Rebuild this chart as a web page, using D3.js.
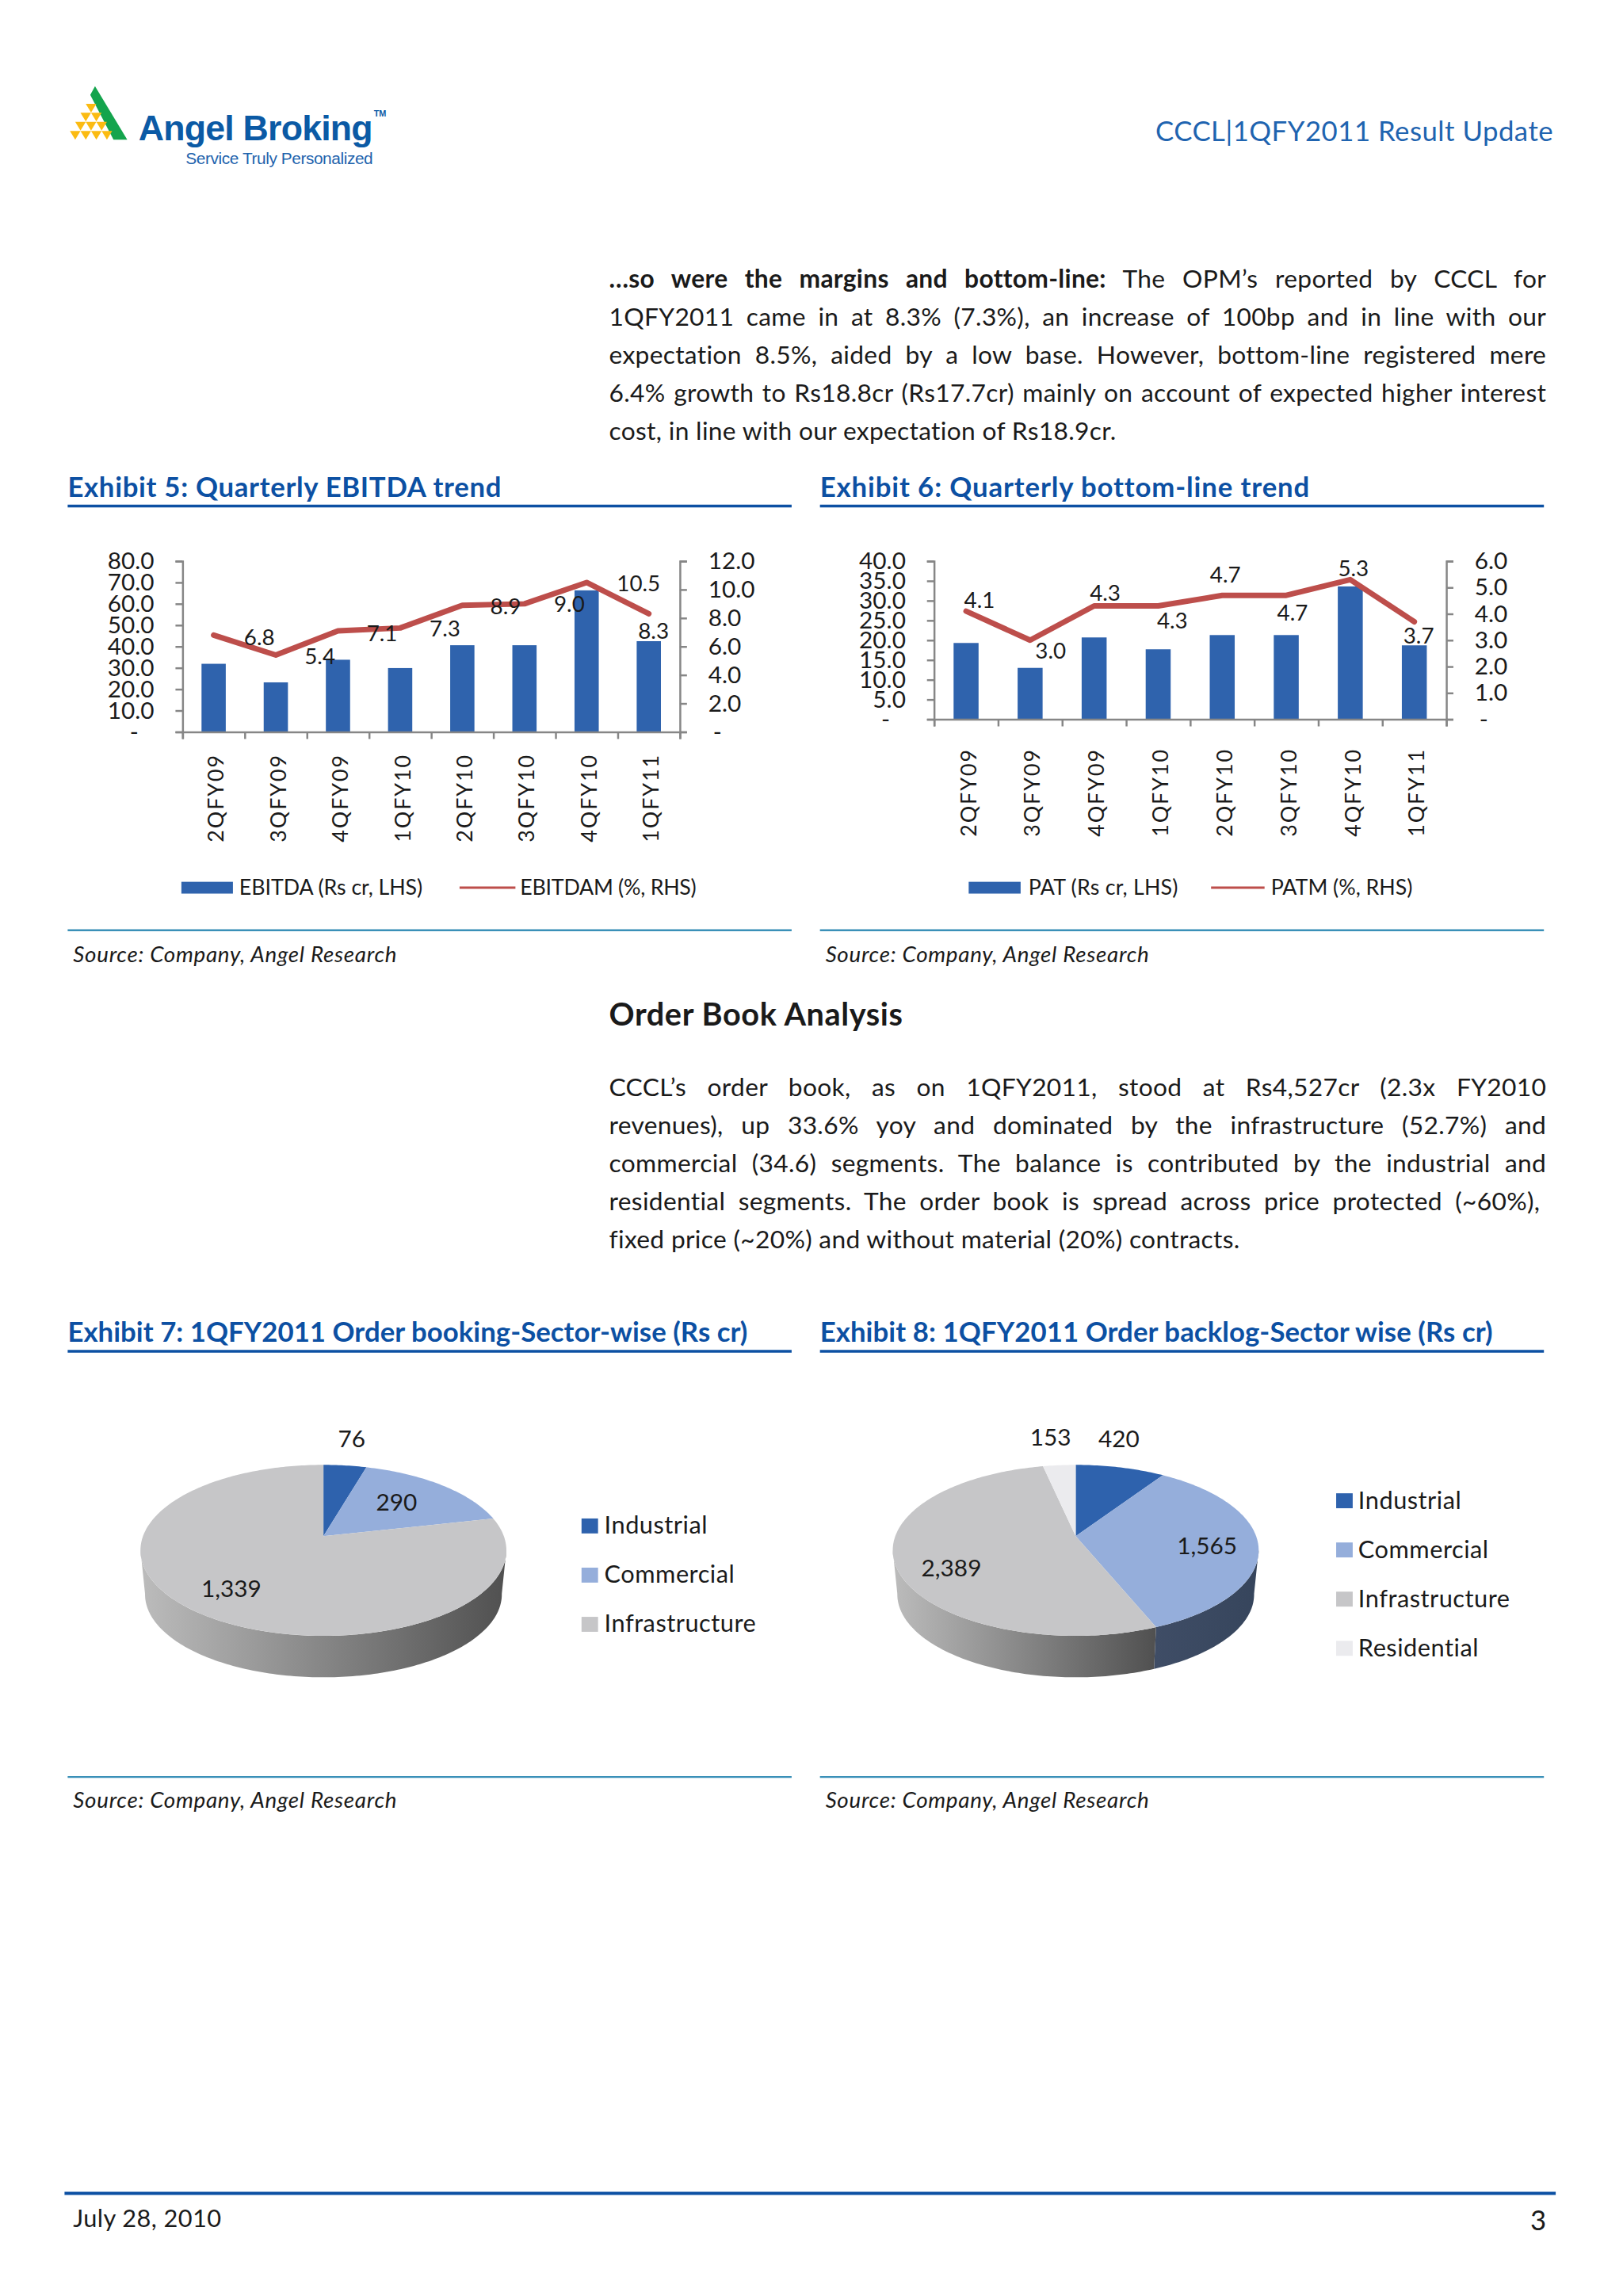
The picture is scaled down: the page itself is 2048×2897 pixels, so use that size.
<!DOCTYPE html>
<html><head><meta charset="utf-8">
<script src="https://cdn.jsdelivr.net/npm/d3@7/dist/d3.min.js"></script>
<style>
html,body{margin:0;padding:0;background:#fff}
svg{display:block}
text{font-family:Lato,"Open Sans",sans-serif;fill:#1a1a1a;font-variant-ligatures:none}
.axis path,.axis line{stroke:#868686;stroke-width:2.5;fill:none}
.axis text{font-size:30px;fill:#1a1a1a;font-family:Lato,sans-serif}
</style></head><body>
<svg id="page" width="2048" height="2897" viewBox="0 0 2062.5 2917.5"></svg>
<script>
// ---------- data ----------
const quarters = ["2QFY09","3QFY09","4QFY09","1QFY10","2QFY10","3QFY10","4QFY10","1QFY11"];
const ebitda  = [31.9,23.2,33.8,29.9,40.6,40.6,66.3,42.5];
const ebitdam = [6.8,5.4,7.1,7.3,8.9,9.0,10.5,8.3];
const pat     = [19.3,13.0,20.7,17.7,21.3,21.3,33.6,18.7];
const patm    = [4.1,3.0,4.3,4.3,4.7,4.7,5.3,3.7];
const leftTicks5  = [0,10,20,30,40,50,60,70,80];
const rightTicks5 = [0,2,4,6,8,10,12];
const leftTicks6  = [0,5,10,15,20,25,30,35,40];
const rightTicks6 = [0,1,2,3,4,5,6];
const bookingSectors = ["Industrial","Commercial","Infrastructure"];
const bookingValues  = [76,290,1339];
const backlogSectors = ["Industrial","Commercial","Infrastructure","Residential"];
const backlogValues  = [420,1565,2389,153];

const para1 = ["…so were the margins and bottom-line: The OPM’s reported by CCCL for",
 "1QFY2011 came in at 8.3% (7.3%), an increase of 100bp and in line with our",
 "expectation 8.5%, aided by a low base. However, bottom-line registered mere",
 "6.4% growth to Rs18.8cr (Rs17.7cr) mainly on account of expected higher interest",
 "cost, in line with our expectation of Rs18.9cr."];
const para2 = ["CCCL’s order book, as on 1QFY2011, stood at Rs4,527cr (2.3x FY2010",
 "revenues), up 33.6% yoy and dominated by the infrastructure (52.7%) and",
 "commercial (34.6) segments. The balance is contributed by the industrial and",
 "residential segments.  The order book is spread across price protected (~60%),",
 "fixed price (~20%) and without material (20%) contracts."];

// ---------- style ----------
const BLUE="#2f63ad", RED="#bd4e4b", TITLE="#0c50a3", TEAL="#3a90b8", BODY="#1a1a1a";
const sliceCol={Industrial:"#2e62ad",Commercial:"#95aedb",Infrastructure:"#c6c6c8",Residential:"#ebebee"};
const wallCol={Industrial:["#24447a","#1e3a6a"],Commercial:["#3f4d66","#36455c"],Infrastructure:["#bcbcbc","#505050"],Residential:["#aaa","#888"]};

const svg=d3.select("#page");
svg.append("rect").attr("width",2063).attr("height",2918).attr("fill","#fff");
const defs=svg.append("defs");

function T(x,y,s,o={}){
  const t=svg.append("text").attr("x",x).attr("y",y).text(s);
  t.style("font-size",(o.size||30)+"px").style("fill",o.fill||BODY);
  if(o.weight)t.style("font-weight",o.weight);
  if(o.style)t.style("font-style",o.style);
  if(o.anchor)t.attr("text-anchor",o.anchor);
  if(o.ls)t.style("letter-spacing",o.ls+"px");
  if(o.family)t.style("font-family",o.family);
  if(o.len)t.attr("textLength",o.len).attr("lengthAdjust","spacing");
  return t;
}

// ---------- logo ----------
(function(){
  const lg=svg.append("g").attr("transform","translate(61,91) scale(0.3357)");
  lg.append("polygon").attr("points","178,55 300,258 248,258 160,88").attr("fill","#14a44d");
  [[163,122],[143,156],[183,156],[123,190],[163,190],[203,190],[103,225],[143,225],[183,225],[223,225]].forEach(p=>{
    lg.append("polygon").attr("points",`${p[0]-20},${p[1]} ${p[0]+20},${p[1]} ${p[0]},${p[1]+33}`).attr("fill","#fbbb12");
  });
  T(176,178,"Angel Broking",{size:45,weight:700,fill:"#0b5aa5",family:"'Liberation Sans',sans-serif",len:298});
  T(475,148,"TM",{size:11,weight:700,fill:"#0b5aa5",family:"'Liberation Sans',sans-serif"});
  T(236,208,"Service Truly Personalized",{size:21,fill:"#1e63ad",family:"'Liberation Sans',sans-serif",len:238});
})();
T(1974,179,"CCCL|1QFY2011 Result Update",{size:35,anchor:"end",fill:"#1f64b0",ls:0.5});

// ---------- paragraphs ----------
function para(lines,ys,boldHead){
  lines.forEach((ln,i)=>{
    const t=svg.append("text").attr("x",774).attr("y",ys[i]).style("font-size","32px").style("fill",BODY).style("letter-spacing","0.3px");
    if(boldHead&&i===0){
      const k=ln.indexOf(":")+1;
      t.append("tspan").style("font-weight",700).text(ln.slice(0,k));
      t.append("tspan").text(ln.slice(k));
    } else t.text(ln);
    if(i<lines.length-1){
      const len=t.node().getComputedTextLength();
      const sp=(ln.match(/ /g)||[]).length;
      t.style("word-spacing",((1965-774-len)/sp)+"px");
    }
  });
}
para(para1,[365.5,413.5,462,510.5,558.5],true);
T(774,1303,"Order Book Analysis",{size:40,weight:700,len:373});
para(para2,[1393,1441.5,1489.5,1538,1586.5],false);

// ---------- exhibit frames ----------
function frame(x,title,titleLen,titleY,ruleY,srcRuleY,srcY){
  T(x,titleY,title,{size:35,weight:700,fill:TITLE,len:titleLen});
  svg.append("line").attr("x1",x).attr("x2",x+920).attr("y1",ruleY).attr("y2",ruleY).attr("stroke",TITLE).attr("stroke-width",3.5);
  svg.append("line").attr("x1",x).attr("x2",x+920).attr("y1",srcRuleY).attr("y2",srcRuleY).attr("stroke",TEAL).attr("stroke-width",2.5);
  T(x+7,srcY,"Source: Company, Angel Research",{size:28,style:"italic",len:411});
}
frame(86,"Exhibit 5: Quarterly EBITDA trend",551,631,643,1182,1223);
frame(1042,"Exhibit 6: Quarterly bottom-line trend",622,631,643,1182,1223);
frame(86,"Exhibit 7: 1QFY2011 Order booking-Sector-wise (Rs cr)",864,1705,1717,2258,2297);
frame(1042,"Exhibit 8: 1QFY2011 Order backlog-Sector wise (Rs cr)",855,1705,1717,2258,2297);

// ---------- combo charts ----------
function combo(c){
  const g=svg.append("g");
  const x=d3.scaleBand().domain(quarters).range([c.x0,c.x1]).paddingInner(0.61).paddingOuter(0.305);
  const edge=d3.scaleLinear().domain([0,quarters.length]).range([c.x0,c.x1]);
  const yL=d3.scaleLinear().domain(c.lDomain).range([c.y0,c.y1]);
  const yR=d3.scaleLinear().domain(c.rDomain).range([c.y0,c.y1]);
  g.selectAll("rect.bar").data(c.bars).join("rect").attr("class","bar")
    .attr("x",(d,i)=>x(quarters[i])).attr("width",x.bandwidth())
    .attr("y",d=>yL(d)).attr("height",d=>c.y0-yL(d)).attr("fill",BLUE);
  const fmt=d=>d===0?"-":d3.format(".1f")(d);
  const aL=g.append("g").attr("class","axis").attr("transform",`translate(${c.x0},0)`)
    .call(d3.axisLeft(yL).tickValues(c.lTicks).tickSize(9).tickPadding(27).tickFormat(fmt));
  const aR=g.append("g").attr("class","axis").attr("transform",`translate(${c.x1},0)`)
    .call(d3.axisRight(yR).tickValues(c.rTicks).tickSize(9).tickPadding(27).tickFormat(fmt));
  aL.selectAll(".tick").filter(d=>d===0).select("text").attr("dx",-20);
  aR.selectAll(".tick").filter(d=>d===0).select("text").attr("dx",6);
  g.append("g").attr("class","axis").attr("transform",`translate(0,${c.y0})`)
    .call(d3.axisBottom(edge).ticks(quarters.length).tickSize(9).tickFormat(""));
  const cat=g.append("g").attr("transform",`translate(3,${c.catY})`).call(d3.axisBottom(x).tickSize(0).tickPadding(0));
  cat.select(".domain").remove();
  cat.selectAll("text").attr("transform","rotate(-90)").attr("x",0).attr("y",0).attr("dy","0.36em")
    .attr("text-anchor","middle").style("font-size","27px").style("letter-spacing","2px").style("fill",BODY).style("font-family","Lato,sans-serif");
  const line=d3.line().x((d,i)=>x(quarters[i])+x.bandwidth()/2).y(d=>yR(d));
  g.append("path").attr("d",line(c.line)).attr("fill","none").attr("stroke",RED).attr("stroke-width",7).attr("stroke-linecap","round").attr("stroke-linejoin","round");
  g.selectAll("text.val").data(c.line).join("text").attr("class","val")
    .attr("x",(d,i)=>x(quarters[i])+x.bandwidth()/2+c.lblDx[i])
    .attr("y",(d,i)=>yR(d)+c.lblDy[i]).attr("dy","0.35em").attr("text-anchor","middle")
    .style("font-size","28px").style("fill",BODY).text(d=>d.toFixed(1));
  g.append("rect").attr("x",c.lg[0]).attr("y",c.lgY-7.5).attr("width",c.lg[1]-c.lg[0]).attr("height",15).attr("fill",BLUE);
  T(c.lg[2],c.lgY+9,c.names[0],{size:27,len:c.lg[6]});
  g.append("line").attr("x1",c.lg[3]).attr("x2",c.lg[4]).attr("y1",c.lgY).attr("y2",c.lgY).attr("stroke",RED).attr("stroke-width",3);
  T(c.lg[5],c.lgY+9,c.names[1],{size:27,len:c.lg[7]});
}
combo({x0:232,x1:864,y0:930,y1:713,lDomain:[0,80],rDomain:[0,12],lTicks:leftTicks5,rTicks:rightTicks5,
  bars:ebitda,line:ebitdam,catY:1014,
  lblDx:[58,56,56,57,55,57,66,6],lblDy:[3,2,3.5,1,2,0,1,22],
  lg:[230.5,296,304,584,655,661,233,224],lgY:1128,names:["EBITDA (Rs cr, LHS)","EBITDAM (%, RHS)"]});
combo({x0:1187,x1:1838,y0:914,y1:713,lDomain:[0,40],rDomain:[0,6],lTicks:leftTicks6,rTicks:rightTicks6,
  bars:pat,line:patm,catY:1007,
  lblDx:[17,26,14,18,4,8,4,5.5],lblDy:[-14.5,13.5,-16,19,-26,22,-14,17.5],
  lg:[1231,1297,1307,1539,1607,1615,190,180],lgY:1128,names:["PAT (Rs cr, LHS)","PATM (%, RHS)"]});

// ---------- 3D perspective pies ----------
let gid=0;
function pie3d(p){
  const g=svg.append("g");
  const arcs=d3.pie().sort(null).value(d=>d.v)(p.sectors.map((s,i)=>({s,v:p.values[i]})));
  const A=p.ry, B=p.apex, kk=B/A;
  const C=p.rx*Math.sqrt(1-kk*kk);
  const top=th=>{const X=Math.sin(th),Y=Math.cos(th),w=1+kk*Y;
    return [p.cx+C*X/w, p.cy-(A*Y+B)/w];};
  const bot=th=>{const q=top(th);
    return [p.cx+(q[0]-p.cx)*p.botX, p.cy+p.depth+(q[1]-p.cy)*p.botY];};
  const path=d3.line();
  const samp=(a,b)=>{const n=Math.max(2,Math.ceil((b-a)/(Math.PI/180))),r=[];
    for(let i=0;i<=n;i++)r.push(a+(b-a)*i/n);return r;};
  const lo=Math.PI/2+0.16,hi=3*Math.PI/2-0.16;
  arcs.forEach(d=>{
    const a=Math.max(d.startAngle,lo),b=Math.min(d.endAngle,hi);
    if(b<=a)return;
    const id="w"+(gid++);
    const gr=defs.append("linearGradient").attr("id",id).attr("x1",1).attr("x2",0).attr("y1",0).attr("y2",0);
    const cols=wallCol[d.data.s];
    gr.append("stop").attr("offset",0).attr("stop-color",cols[1]);
    gr.append("stop").attr("offset",1).attr("stop-color",cols[0]);
    const ang=samp(a,b);
    const pts=ang.map(top).concat(ang.slice().reverse().map(bot));
    g.append("path").attr("d",path(pts)+"Z").attr("fill",`url(#${id})`);
  });
  arcs.forEach(d=>{
    const pts=[[p.cx,p.cy-B]].concat(samp(d.startAngle,d.endAngle).map(top));
    g.append("path").attr("d",path(pts)+"Z").attr("fill",sliceCol[d.data.s]);
  });
  p.values.forEach((v,i)=>{
    T(p.lbl[i][0],p.lbl[i][1],d3.format(",")(v),{size:30,anchor:"middle"}).attr("dy","0.35em");
  });
  p.sectors.forEach((s,i)=>{
    const y=p.lgY+i*p.lgStep;
    g.append("rect").attr("x",p.lgX).attr("y",y-9.5).attr("width",21).attr("height",19).attr("fill",sliceCol[s]);
    T(p.lgX+p.txtOff,y+10,s,{size:31,ls:0.5});
  });
}
pie3d({cx:411,cy:1970,rx:232.5,ry:108.6,apex:18,depth:56,botX:0.975,botY:0.97,
  sectors:bookingSectors,values:bookingValues,
  lbl:[[447,1828],[504,1909],[294,2019]],lgX:739,txtOff:29,lgY:1939,lgStep:62.5});
pie3d({cx:1367,cy:1970,rx:232.5,ry:108.6,apex:18,depth:56,botX:0.975,botY:0.97,
  sectors:backlogSectors,values:backlogValues,
  lbl:[[1422,1828],[1534,1964],[1209,1993],[1335,1826]],lgX:1698,txtOff:28,lgY:1907,lgStep:62.5});

// ---------- footer ----------
svg.append("line").attr("x1",82).attr("x2",1977).attr("y1",2787).attr("y2",2787).attr("stroke",TITLE).attr("stroke-width",4);
T(93,2830,"July 28, 2010",{size:31,ls:0.4});
T(1965,2834,"3",{size:35,anchor:"end"});
</script>
</body></html>
